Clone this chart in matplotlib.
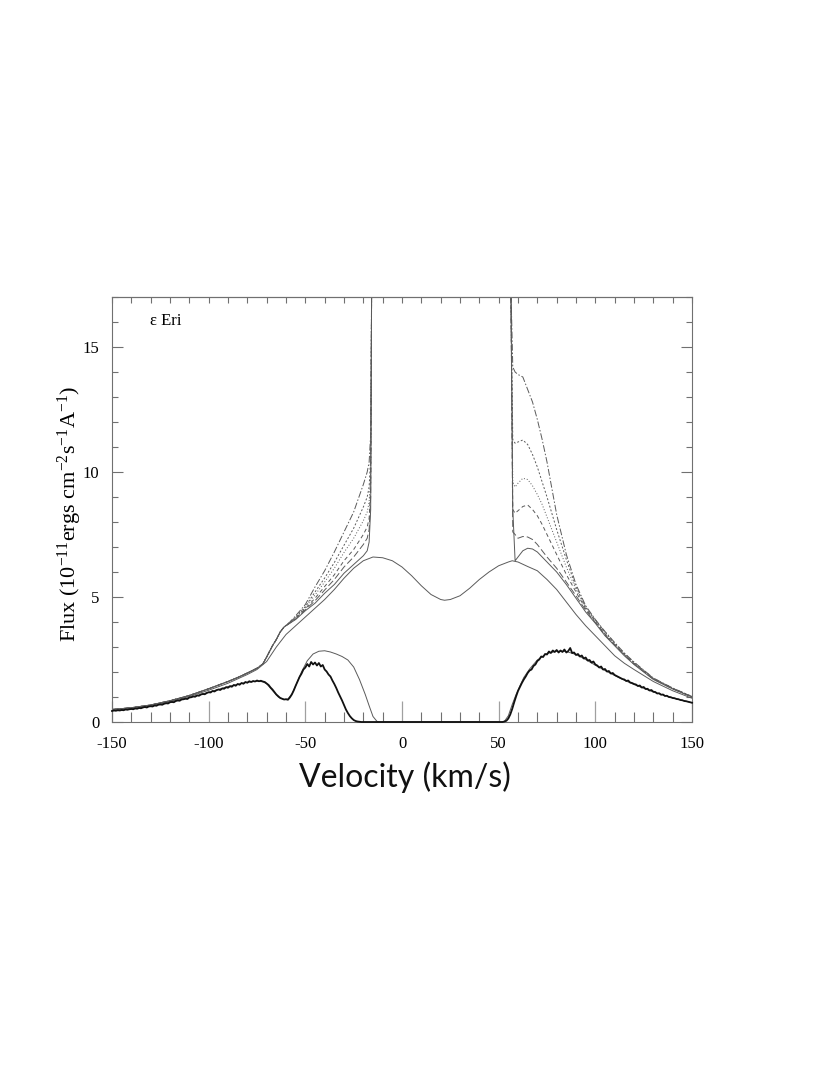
import numpy as np
import matplotlib
matplotlib.use("Agg")
import matplotlib.pyplot as plt
from matplotlib.ticker import MultipleLocator

plt.rcParams['font.family'] = ['Liberation Serif', 'DejaVu Serif']
plt.rcParams['axes.unicode_minus'] = False
plt.rcParams['mathtext.fontset'] = 'custom'
plt.rcParams['mathtext.rm'] = 'Liberation Serif'
plt.rcParams['mathtext.it'] = 'Liberation Serif:italic'
plt.rcParams['mathtext.default'] = 'regular'

# observed profile (bold), 1 km/s sampling, left wing from -150 and right wing from +52
obs_left = [0.44, 0.46, 0.45, 0.47, 0.46, 0.48, 0.47, 0.50, 0.49, 0.51,
            0.52, 0.51, 0.54, 0.53, 0.56, 0.55, 0.58, 0.60, 0.58, 0.62,
            0.63, 0.62, 0.66, 0.65, 0.69, 0.70, 0.69, 0.73, 0.75, 0.74,
            0.79, 0.80, 0.79, 0.84, 0.86, 0.85, 0.90, 0.91, 0.93, 0.92,
            0.98, 0.99, 1.02, 1.01, 1.06, 1.05, 1.10, 1.12, 1.11, 1.16,
            1.19, 1.18, 1.24, 1.22, 1.27, 1.30, 1.28, 1.34, 1.33, 1.39,
            1.37, 1.43, 1.41, 1.48, 1.45, 1.52, 1.49, 1.56, 1.53, 1.60,
            1.57, 1.63, 1.60, 1.64, 1.62, 1.66, 1.63, 1.65, 1.62, 1.60,
            1.54, 1.48, 1.38, 1.30, 1.20, 1.10, 1.03, 0.96, 0.93, 0.90,
            0.91, 0.89, 0.98, 1.10, 1.26, 1.45, 1.62, 1.80, 1.93, 2.10,
            2.18, 2.32, 2.22, 2.40, 2.30, 2.38, 2.26, 2.36, 2.22, 2.28,
            2.10, 2.02, 1.90, 1.82, 1.66, 1.52, 1.36, 1.18, 1.02, 0.86,
            0.68, 0.50, 0.36, 0.24, 0.15, 0.08, 0.04, 0.02, 0.01]
obs_right = [0.00, 0.02, 0.05, 0.14, 0.30, 0.52, 0.78, 1.02, 1.24, 1.40,
             1.56, 1.70, 1.82, 1.96, 2.06, 2.10, 2.24, 2.30, 2.44, 2.50,
             2.62, 2.60, 2.72, 2.70, 2.82, 2.76, 2.86, 2.80, 2.88, 2.78,
             2.86, 2.80, 2.90, 2.78, 2.84, 2.96, 2.76, 2.78, 2.68, 2.72,
             2.62, 2.66, 2.54, 2.58, 2.46, 2.48, 2.38, 2.42, 2.30, 2.26,
             2.18, 2.22, 2.10, 2.12, 2.02, 2.04, 1.94, 1.96, 1.88, 1.84,
             1.80, 1.76, 1.72, 1.70, 1.64, 1.66, 1.58, 1.56, 1.52, 1.50,
             1.44, 1.46, 1.38, 1.40, 1.32, 1.33, 1.26, 1.28, 1.21, 1.20,
             1.14, 1.15, 1.09, 1.10, 1.04, 1.05, 1.00, 0.99, 0.96, 0.95,
             0.92, 0.91, 0.88, 0.87, 0.84, 0.83, 0.81, 0.79, 0.77]
obs_gap_v = [-21, 51]
obs_gap_f = [0.0, 0.0]

# model fit to observed profile (thin)
mod_v = [-150, -140, -130, -120, -110, -100, -90, -85, -80, -75, -72, -70, -67, -64,
         -61, -59, -57, -55, -52, -49, -46, -43, -40, -37, -34, -31, -28, -25,
         -22, -19, -17, -15, -13, -12, 52, 53, 55, 57, 59, 61, 63, 66, 70, 75,
         80, 85, 90, 95, 100, 105, 110, 115, 120, 130, 140, 150]
mod_f = [0.46, 0.53, 0.64, 0.80, 0.98, 1.19, 1.42, 1.51, 1.59, 1.63, 1.61, 1.53, 1.26, 1.00,
         0.90, 0.92, 1.12, 1.45, 2.00, 2.45, 2.72, 2.83, 2.85, 2.80, 2.72, 2.62, 2.48, 2.20,
         1.70, 1.10, 0.65, 0.22, 0.03, 0.00, 0.00, 0.03, 0.25, 0.70, 1.10, 1.45, 1.78, 2.12, 2.48, 2.74,
         2.83, 2.82, 2.70, 2.50, 2.27, 2.06, 1.86, 1.67, 1.50, 1.20, 0.97, 0.77]

# intrinsic (double peaked) profile
int_v = [-150, -140, -130, -120, -110, -100, -90, -80, -75, -70, -65, -60, -55, -50,
         -45, -40, -35, -30, -25, -20, -15, -10, -5, 0, 5, 10, 15, 20, 22, 25, 30, 35,
         40, 45, 50, 55, 57, 60, 65, 70, 75, 80, 85, 90, 95, 100, 105, 110, 115, 120,
         130, 140, 150]
int_f = [0.47, 0.55, 0.66, 0.82, 1.02, 1.27, 1.55, 1.90, 2.10, 2.42, 3.00, 3.50, 3.85, 4.20,
         4.55, 4.90, 5.30, 5.75, 6.15, 6.45, 6.60, 6.57, 6.45, 6.20, 5.85, 5.45, 5.10, 4.90,
         4.87, 4.90, 5.05, 5.35, 5.70, 6.00, 6.25, 6.40, 6.45, 6.40, 6.22, 6.05, 5.70, 5.30,
         4.80, 4.30, 3.85, 3.45, 3.05, 2.65, 2.35, 2.10, 1.62, 1.25, 0.95]

# profiles with core emission: shared outer blue wing, then individual curves
wing_v = [-150, -140, -130, -120, -110, -100, -90, -85, -80, -75, -72, -70, -67, -65, -63, -61]
wing_f = [0.50, 0.57, 0.68, 0.85, 1.06, 1.33, 1.62, 1.78, 1.96, 2.15, 2.32, 2.60, 3.05, 3.30, 3.60, 3.80]
lcore_v = [-58, -55, -50, -45, -40, -35, -30, -25, -20, -18, -17, -16.2, -15.7]
rcore_v = [56.3, 57.3, 58.5, 60, 62.5, 65, 67.5, 70, 72.5, 75, 80, 85, 90, 95, 100, 105,
           110, 115, 120, 130, 140, 150]

solid_l = [3.95, 4.10, 4.45, 4.75, 5.15, 5.50, 5.95, 6.30, 6.65, 6.85, 7.20, 8.50, 17.5]
solid_r = [17.5, 8.50, 6.45, 6.60, 6.85, 6.95, 6.92, 6.80, 6.60, 6.40, 6.00, 5.50, 4.95,
           4.40, 3.95, 3.45, 3.05, 2.65, 2.30, 1.70, 1.32, 1.00]
ldash_l = [3.96, 4.12, 4.49, 4.85, 5.28, 5.70, 6.20, 6.60, 7.10, 7.35, 7.70, 9.00, 17.5]
ldash_r = [17.5, 7.60, 7.50, 7.35, 7.42, 7.40, 7.30, 7.10, 6.85, 6.60, 6.15, 5.60, 5.05,
           4.47, 3.98, 3.48, 3.08, 2.68, 2.32, 1.72, 1.33, 1.00]
dash_l = [3.97, 4.15, 4.53, 4.95, 5.42, 5.89, 6.45, 6.90, 7.50, 7.80, 8.15, 9.40, 17.5]
dash_r = [17.5, 8.50, 8.35, 8.45, 8.62, 8.68, 8.50, 8.25, 7.90, 7.50, 6.70, 5.90, 5.20,
          4.53, 4.02, 3.52, 3.10, 2.70, 2.34, 1.73, 1.34, 1.01]
dot_l = [3.98, 4.18, 4.58, 5.08, 5.60, 6.15, 6.78, 7.35, 8.05, 8.40, 8.80, 10.0, 17.5]
dot_r = [17.5, 9.60, 9.40, 9.55, 9.75, 9.70, 9.45, 9.10, 8.70, 8.20, 7.20, 6.20, 5.30,
         4.58, 4.05, 3.56, 3.12, 2.72, 2.36, 1.74, 1.35, 1.01]
dashdot_l = [3.99, 4.20, 4.62, 5.20, 5.76, 6.38, 7.07, 7.75, 8.60, 9.00, 9.40, 10.6, 17.5]
dashdot_r = [17.5, 11.3, 11.15, 11.2, 11.28, 11.1, 10.7, 10.2, 9.60, 9.00, 7.70, 6.50, 5.40,
             4.60, 4.08, 3.60, 3.15, 2.74, 2.38, 1.75, 1.35, 1.02]
top_l = [4.00, 4.25, 4.70, 5.40, 6.05, 6.80, 7.60, 8.40, 9.50, 10.0, 10.4, 11.5, 17.5]
top_r = [17.5, 14.2, 14.0, 13.9, 13.8, 13.3, 12.8, 12.1, 11.3, 10.4, 8.30, 6.70, 5.50,
         4.65, 4.10, 3.62, 3.18, 2.76, 2.40, 1.76, 1.36, 1.02]

x_ticks = [-150, -100, -50, 0, 50, 100, 150]
y_ticks = [0, 5, 10, 15]

line_grey = '#5a5a5a'
axis_grey = '#707070'

fig = plt.figure(figsize=(8.3, 10.75), dpi=100)
ax = fig.add_axes([112 / 830, 1 - 722 / 1075, 580 / 830, 425 / 1075])

core_curves = [
    (solid_l, solid_r, '-'),
    (ldash_l, ldash_r, (0, (7, 3))),
    (dash_l, dash_r, (0, (4, 3))),
    (dot_l, dot_r, (0, (1, 2))),
    (dashdot_l, dashdot_r, (0, (2, 2))),
    (top_l, top_r, (0, (7, 2, 1.5, 2))),
]
for f_l, f_r, style in core_curves:
    vv = np.concatenate([wing_v, lcore_v, rcore_v])
    ff = np.concatenate([wing_f, f_l, f_r])
    ax.plot(vv, ff, color=line_grey, lw=0.7, ls=style)

ax.plot(int_v, int_f, color=line_grey, lw=0.7)
ax.plot(mod_v, mod_f, color=line_grey, lw=0.7)

v_obs = np.concatenate([np.arange(-150, -150 + len(obs_left)), obs_gap_v,
                        np.arange(52, 52 + len(obs_right))])
f_obs = np.concatenate([obs_left, obs_gap_f, obs_right])
ax.plot(v_obs, f_obs, color='#111111', lw=1.3, zorder=3, clip_on=False)

ax.set_xlim(-150, 150)
ax.set_ylim(0, 17)
ax.set_xticks(x_ticks)
ax.set_yticks(y_ticks)
ax.xaxis.set_minor_locator(MultipleLocator(10))
ax.yaxis.set_minor_locator(MultipleLocator(1))
ax.tick_params(axis='x', which='major', direction='in', length=15, width=0.9,
               color='#a0a0a0', pad=10, labelsize=12)
ax.tick_params(axis='x', which='minor', direction='in', length=7, width=0.8, color=axis_grey)
ax.tick_params(axis='y', which='major', direction='in', length=8, width=0.8,
               color=axis_grey, right=True, pad=9, labelsize=12)
ax.tick_params(axis='y', which='minor', direction='in', length=4.5, width=0.8,
               color=axis_grey, right=True)
for sp in ax.spines.values():
    sp.set_color(axis_grey)
    sp.set_linewidth(0.8)

sec = ax.secondary_xaxis('top')
sec.set_xticks(np.arange(-150, 151, 10))
sec.tick_params(direction='in', length=4.5, width=0.8, color=axis_grey, labeltop=False)
sec.spines['top'].set_color(axis_grey)
sec.spines['top'].set_linewidth(0.8)

ax.text(0.066, 0.934, 'ε Eri', transform=ax.transAxes, fontsize=12, va='baseline')

fig.text(70 / 830, 1 - 514 / 1075,
         r'Flux (10$^{-11}$ergs cm$^{-2}$s$^{-1}$A$^{-1}$)',
         rotation=90, ha='center', va='center', fontsize=16)
fig.text(405 / 830, 1 - 787 / 1075, 'Velocity (km/s)', ha='center', va='baseline',
         fontsize=23, family=['Lato', 'DejaVu Sans'], color='#111111')

fig.savefig('out.png', dpi=100)
